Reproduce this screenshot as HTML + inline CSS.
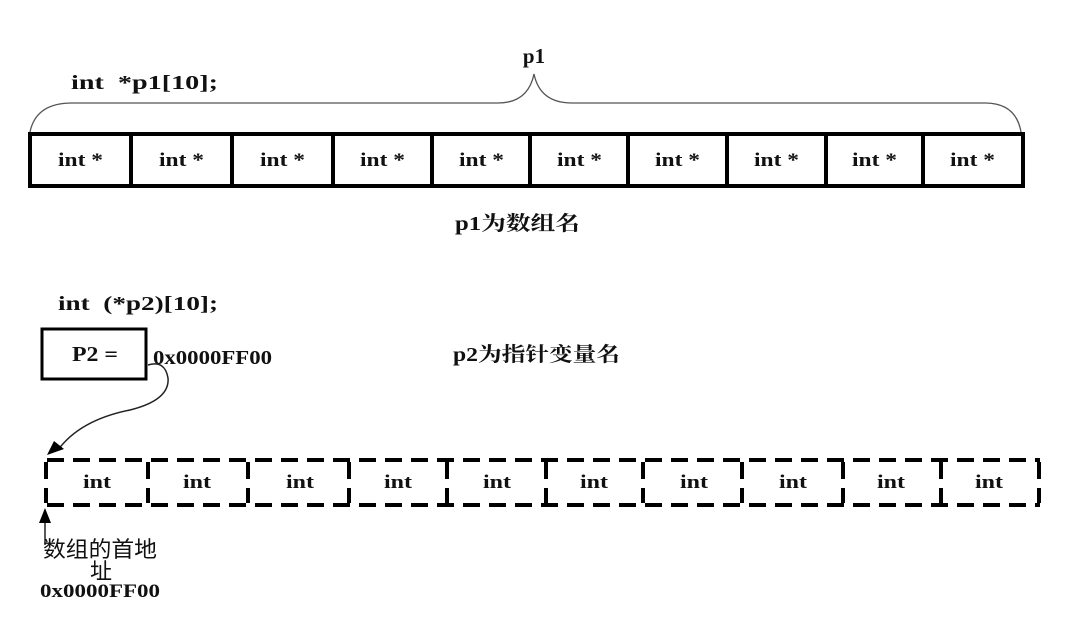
<!DOCTYPE html>
<html><head><meta charset="utf-8"><style>
body{margin:0;background:#fff;width:1092px;height:621px;overflow:hidden}
svg text{font-family:"Liberation Serif","Noto Serif CJK SC",serif;font-weight:bold;fill:#111;white-space:pre}
</style></head><body>
<svg width="1092" height="621" viewBox="0 0 1092 621" xmlns="http://www.w3.org/2000/svg">
<text x="71" y="89" font-size="20" xml:space="preserve" textLength="147" lengthAdjust="spacingAndGlyphs">int  *p1[10];</text>
<text x="534" y="63" font-size="21" text-anchor="middle">p1</text>
<path d="M30 132 Q36 103 72 103 L498 103 Q528 103 534 74 Q540 103 572 103 L985 103 Q1016 103 1021 132" fill="none" stroke="#555" stroke-width="1.3"/>
<rect x="30" y="134" width="993" height="52" fill="none" stroke="#000" stroke-width="4"/>
<g stroke="#000" stroke-width="4">
<line x1="131" y1="134" x2="131" y2="186"/><line x1="232" y1="134" x2="232" y2="186"/><line x1="333" y1="134" x2="333" y2="186"/><line x1="432" y1="134" x2="432" y2="186"/><line x1="530" y1="134" x2="530" y2="186"/><line x1="628" y1="134" x2="628" y2="186"/><line x1="727" y1="134" x2="727" y2="186"/><line x1="826" y1="134" x2="826" y2="186"/><line x1="923" y1="134" x2="923" y2="186"/>
</g>
<g font-size="19">
<text x="58" y="166" textLength="45" lengthAdjust="spacingAndGlyphs">int *</text><text x="159" y="166" textLength="45" lengthAdjust="spacingAndGlyphs">int *</text><text x="260" y="166" textLength="45" lengthAdjust="spacingAndGlyphs">int *</text><text x="360" y="166" textLength="45" lengthAdjust="spacingAndGlyphs">int *</text><text x="459" y="166" textLength="45" lengthAdjust="spacingAndGlyphs">int *</text><text x="557" y="166" textLength="45" lengthAdjust="spacingAndGlyphs">int *</text><text x="655" y="166" textLength="45" lengthAdjust="spacingAndGlyphs">int *</text><text x="754" y="166" textLength="45" lengthAdjust="spacingAndGlyphs">int *</text><text x="852" y="166" textLength="45" lengthAdjust="spacingAndGlyphs">int *</text><text x="950" y="166" textLength="45" lengthAdjust="spacingAndGlyphs">int *</text>
</g>
<text x="455" y="230" font-size="20" textLength="125" lengthAdjust="spacingAndGlyphs">p1为数组名</text>
<text x="58" y="310" font-size="20" xml:space="preserve" textLength="160" lengthAdjust="spacingAndGlyphs">int  (*p2)[10];</text>
<rect x="42" y="329" width="104" height="50" fill="none" stroke="#000" stroke-width="3"/>
<text x="72" y="361" font-size="21" textLength="46" lengthAdjust="spacingAndGlyphs">P2 =</text>
<text x="153" y="364" font-size="20" textLength="119" lengthAdjust="spacingAndGlyphs">0x0000FF00</text>
<text x="453" y="361" font-size="20" textLength="167" lengthAdjust="spacingAndGlyphs">p2为指针变量名</text>
<path d="M148 365 Q165 360 168 378 Q170 400 130 410 Q80 420 58 450" fill="none" stroke="#222" stroke-width="1.5"/>
<polygon points="47,455 54,441 64,449" fill="#000"/>
<g fill="none" stroke="#000" stroke-width="4" stroke-dasharray="17 9">
<line x1="47" y1="460" x2="1040" y2="460"/><line x1="47" y1="505" x2="1040" y2="505"/>
<line x1="46" y1="462" x2="46" y2="503"/><line x1="1039" y1="462" x2="1039" y2="503"/>
<line x1="148" y1="462" x2="148" y2="503"/><line x1="248" y1="462" x2="248" y2="503"/><line x1="349" y1="462" x2="349" y2="503"/><line x1="447" y1="462" x2="447" y2="503"/><line x1="546" y1="462" x2="546" y2="503"/><line x1="643" y1="462" x2="643" y2="503"/><line x1="742" y1="462" x2="742" y2="503"/><line x1="843" y1="462" x2="843" y2="503"/><line x1="941" y1="462" x2="941" y2="503"/>
</g>
<g font-size="19">
<text x="83" y="488" textLength="28" lengthAdjust="spacingAndGlyphs">int</text><text x="183" y="488" textLength="28" lengthAdjust="spacingAndGlyphs">int</text><text x="286" y="488" textLength="28" lengthAdjust="spacingAndGlyphs">int</text><text x="384" y="488" textLength="28" lengthAdjust="spacingAndGlyphs">int</text><text x="483" y="488" textLength="28" lengthAdjust="spacingAndGlyphs">int</text><text x="580" y="488" textLength="28" lengthAdjust="spacingAndGlyphs">int</text><text x="680" y="488" textLength="28" lengthAdjust="spacingAndGlyphs">int</text><text x="779" y="488" textLength="28" lengthAdjust="spacingAndGlyphs">int</text><text x="877" y="488" textLength="28" lengthAdjust="spacingAndGlyphs">int</text><text x="975" y="488" textLength="28" lengthAdjust="spacingAndGlyphs">int</text>
</g>
<line x1="45" y1="545" x2="45" y2="520" stroke="#000" stroke-width="1.3"/>
<polygon points="45,508 39,523 51,523" fill="#000"/>
<text x="43" y="557" font-size="22" textLength="114" lengthAdjust="spacingAndGlyphs" style="font-weight:normal;font-family:'Noto Sans CJK SC',sans-serif">数组的首地</text>
<text x="90" y="579" font-size="22" style="font-weight:normal;font-family:'Noto Sans CJK SC',sans-serif">址</text>
<text x="40" y="597" font-size="19" textLength="120" lengthAdjust="spacingAndGlyphs">0x0000FF00</text>
</svg>
</body></html>
